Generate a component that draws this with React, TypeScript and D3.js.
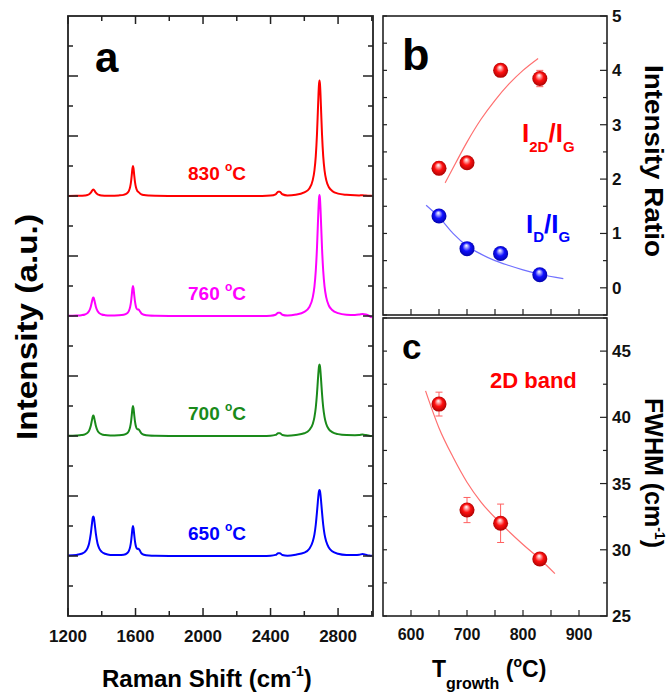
import React from 'react';
import * as d3 from 'd3';

// ---------- Panel a: Raman spectra ----------
const shifts = [1200,1250,1280,1300,1315,1325,1335,1342,1347,1350,
  1353,1358,1365,1375,1385,1400,1420,1450,1500,1530,
  1550,1560,1568,1574,1578,1582,1585,1588,1592,1597,
  1603,1610,1618,1625,1635,1650,1680,1720,1800,2000,
  2200,2350,2400,2430,2445,2455,2470,2500,2550,2600,
  2630,2650,2660,2668,2675,2680,2684,2687,2690,2693,
  2696,2700,2705,2712,2720,2730,2745,2765,2800,2850,
  2900,2925,2945,2965,2985,3000];

const spec650 = [0.017,0.037,0.074,0.137,0.252,0.417,0.742,1.081,1.28,1.32,
  1.28,1.081,0.742,0.417,0.252,0.137,0.074,0.037,0.033,0.045,
  0.095,0.162,0.295,0.5,0.71,0.93,1.0,0.93,0.727,0.481,
  0.311,0.237,0.244,0.19,0.092,0.043,0.017,0.008,0.003,0.0,
  0.0,0.002,0.008,0.036,0.09,0.09,0.036,0.012,0.045,0.11,
  0.24,0.48,0.72,1.05,1.46,1.79,2.04,2.16,2.2,2.16,
  2.04,1.79,1.46,1.05,0.72,0.48,0.28,0.16,0.077,0.037,
  0.034,0.04,0.07,0.04,0.015,0.005];

const spec700 = [0.007,0.015,0.03,0.056,0.105,0.18,0.34,0.53,0.653,0.68,
  0.653,0.53,0.34,0.18,0.105,0.056,0.03,0.015,0.023,0.04,
  0.09,0.162,0.295,0.5,0.71,0.93,1.0,0.93,0.725,0.478,
  0.305,0.227,0.225,0.174,0.086,0.041,0.016,0.008,0.003,0.0,
  0.0,0.002,0.008,0.036,0.09,0.09,0.036,0.012,0.035,0.09,
  0.2,0.4,0.63,0.95,1.4,1.82,2.14,2.32,2.38,2.32,
  2.14,1.82,1.4,0.95,0.63,0.4,0.23,0.13,0.062,0.03,
  0.025,0.03,0.05,0.03,0.01,0.0];

const spec760 = [0.006,0.014,0.027,0.051,0.096,0.164,0.31,0.484,0.595,0.62,
  0.595,0.484,0.31,0.164,0.096,0.051,0.027,0.014,0.022,0.04,
  0.09,0.162,0.295,0.5,0.71,0.93,1.0,0.93,0.724,0.476,
  0.303,0.222,0.215,0.166,0.083,0.04,0.016,0.008,0.003,0.0,
  0.0,0.003,0.01,0.043,0.108,0.108,0.043,0.015,0.05,0.14,
  0.3,0.62,0.98,1.51,2.26,2.99,3.58,3.91,4.03,3.91,
  3.58,2.99,2.26,1.51,0.98,0.62,0.35,0.2,0.094,0.045,
  0.036,0.05,0.07,0.05,0.0,-0.05];

const spec830 = [0.002,0.005,0.01,0.018,0.034,0.058,0.11,0.172,0.211,0.22,
  0.211,0.172,0.11,0.058,0.034,0.018,0.01,0.005,0.018,0.038,
  0.09,0.162,0.295,0.5,0.71,0.93,1.0,0.93,0.713,0.462,
  0.28,0.177,0.129,0.094,0.055,0.031,0.014,0.007,0.003,0.0,
  0.0,0.004,0.014,0.056,0.14,0.14,0.058,0.02,0.04,0.12,
  0.25,0.53,0.85,1.33,2.05,2.77,3.38,3.72,3.85,3.72,
  3.38,2.77,2.05,1.33,0.85,0.53,0.3,0.17,0.08,0.04,
  0.023,0.02,0.025,0.015,0.01,0.005];

const spectra = [spec650, spec700, spec760, spec830];
const offsets = [2, 6, 10, 14];
const specLabels = ['650', '700', '760', '830'];
const specColors = ['#0000ff', '#1a8a1a', '#ff00ff', '#ff0000'];
const ramanTicks = [1200, 1600, 2000, 2400, 2800];

// ---------- Panel b: intensity ratios ----------
const temps = [650, 700, 760, 830];
const ratio2DG = [2.2, 2.3, 4.0, 3.85];
const ratio2DGErr = [0.12, 0.06, 0.08, 0.15];
const ratioDG = [1.32, 0.72, 0.63, 0.24];
const fit2DGT = [661, 680, 700, 725, 750, 775, 800, 827];
const fit2DGV = [1.93, 2.3, 2.68, 3.1, 3.45, 3.75, 4.0, 4.22];
const fitDGT = [627, 650, 675, 700, 725, 750, 775, 800, 830, 872];
const fitDGV = [1.52, 1.3, 1.0, 0.77, 0.62, 0.5, 0.41, 0.33, 0.25, 0.17];
const ratioTicks = [0, 1, 2, 3, 4, 5];

// ---------- Panel c: FWHM of 2D band ----------
const fwhm2D = [41, 33, 32, 29.3];
const fwhm2DErr = [0.9, 0.95, 1.45, 0.2];
const fitFwhmT = [626, 650, 675, 700, 725, 760, 800, 830, 857];
const fitFwhmV = [42, 39.2, 37.0, 35.1, 33.6, 32.0, 30.4, 29.3, 28.2];
const fwhmTicks = [25, 30, 35, 40, 45];
const tempTicks = [600, 700, 800, 900];

const FONT = "'Liberation Sans', Arial, sans-serif";

export default function App() {
  const aL = 68, aR = 373, aT = 16, aB = 616;
  const bL = 383, bR = 607, bT = 16, bB = 315;
  const cT = 318, cB = 616;

  const xA = d3.scaleLinear().domain([1200, 3007]).range([aL, aR]);
  const yA = d3.scaleLinear().domain([0, 20]).range([aB, aT]);
  const xB = d3.scaleLinear().domain([550, 950]).range([bL, bR]);
  const yB = d3.scaleLinear().domain([-0.5, 5]).range([bB, bT]);
  const yC = d3.scaleLinear().domain([25, 47.5]).range([cB, cT]);

  const axisColor = '#222';

  const specPath = (vals: number[], off: number) =>
    d3.line<number>()
      .x((_, i) => xA(shifts[i]))
      .y((v) => yA(v + off))
      .curve(d3.curveMonotoneX)(vals) || '';

  const fitPath = (ts: number[], vs: number[], ys: d3.ScaleLinear<number, number>) =>
    d3.line<number>()
      .x((t) => xB(t))
      .y((_, i) => ys(vs[i]))
      .curve(d3.curveMonotoneX)(ts) || '';

  // ticks panel a
  const aTicks: JSX.Element[] = [];
  d3.range(1200, 3001, 200).forEach((v, i) => {
    const len = (v - 1200) % 400 === 0 ? 8 : 5;
    const x = xA(v);
    aTicks.push(<line key={'ab' + i} x1={x} x2={x} y1={aB} y2={aB - len} stroke={axisColor} strokeWidth={1.5} />);
    aTicks.push(<line key={'at' + i} x1={x} x2={x} y1={aT} y2={aT + len} stroke={axisColor} strokeWidth={1.5} />);
  });
  d3.range(1, 20).forEach((v, i) => {
    const len = v % 2 === 0 ? 10 : 5;
    const y = yA(v);
    aTicks.push(<line key={'al' + i} x1={aL} x2={aL + len} y1={y} y2={y} stroke={axisColor} strokeWidth={1.5} />);
    aTicks.push(<line key={'ar' + i} x1={aR} x2={aR - len} y1={y} y2={y} stroke={axisColor} strokeWidth={1.5} />);
  });

  // ticks panel b / c
  const bcTicks: JSX.Element[] = [];
  d3.range(-0.5, 5.01, 0.5).forEach((v, i) => {
    const major = Math.abs(v - Math.round(v)) < 1e-6;
    const y = yB(v);
    bcTicks.push(<line key={'bl' + i} x1={bL} x2={bL + 4} y1={y} y2={y} stroke={axisColor} strokeWidth={1.2} />);
    bcTicks.push(<line key={'br' + i} x1={bR} x2={bR - (major ? 7 : 4)} y1={y} y2={y} stroke={axisColor} strokeWidth={1.2} />);
  });
  d3.range(25, 47.6, 2.5).forEach((v, i) => {
    const major = v % 5 === 0;
    const y = yC(v);
    bcTicks.push(<line key={'cl' + i} x1={bL} x2={bL + 4} y1={y} y2={y} stroke={axisColor} strokeWidth={1.2} />);
    bcTicks.push(<line key={'cr' + i} x1={bR} x2={bR - (major ? 7 : 4)} y1={y} y2={y} stroke={axisColor} strokeWidth={1.2} />);
  });
  d3.range(600, 901, 50).forEach((v, i) => {
    const x = xB(v);
    bcTicks.push(<line key={'bb' + i} x1={x} x2={x} y1={bB} y2={bB - 6} stroke={axisColor} strokeWidth={1.2} />);
    bcTicks.push(<line key={'cb' + i} x1={x} x2={x} y1={cB} y2={cB - 6} stroke={axisColor} strokeWidth={1.2} />);
  });

  const sphere = (key: string, cx: number, cy: number, fill: string) => (
    <circle key={key} cx={cx} cy={cy} r={7.5} fill={fill} />
  );

  const errBar = (key: string, x: number, y1: number, y2: number, color: string) => (
    <g key={key} stroke={color} strokeWidth={1}>
      <line x1={x} x2={x} y1={y1} y2={y2} />
      <line x1={x - 3.5} x2={x + 3.5} y1={y1} y2={y1} />
      <line x1={x - 3.5} x2={x + 3.5} y1={y2} y2={y2} />
    </g>
  );

  return (
    <svg width={670} height={696} style={{ position: 'absolute', left: 0, top: 0, background: '#fff' }} fontFamily={FONT}>
      <defs>
        <radialGradient id="sphRed" cx="0.5" cy="0.5" r="0.55" fx="0.45" fy="0.28">
          <stop offset="0" stopColor="#ffffff" />
          <stop offset="0.18" stopColor="#ffb0b0" />
          <stop offset="0.5" stopColor="#ff1010" />
          <stop offset="1" stopColor="#a00000" />
        </radialGradient>
        <radialGradient id="sphBlue" cx="0.5" cy="0.5" r="0.55" fx="0.45" fy="0.28">
          <stop offset="0" stopColor="#ffffff" />
          <stop offset="0.18" stopColor="#b0b0ff" />
          <stop offset="0.5" stopColor="#1010ff" />
          <stop offset="1" stopColor="#0000a0" />
        </radialGradient>
      </defs>
      <rect x={0} y={0} width={670} height={696} fill="#fff" />

      {/* ---------- Panel a ---------- */}
      {spectra.map((s, k) => (
        <path key={'sp' + k} d={specPath(s, offsets[k])} fill="none" stroke={specColors[k]} strokeWidth={2} />
      ))}
      {spectra.map((_, k) => (
        <text key={'sl' + k} x={188} y={yA(offsets[k]) - 16} fill={specColors[k]} fontSize={19} fontWeight="bold">
          {specLabels[k] + ' '}
          <tspan fontSize={12} dy={-9}>o</tspan>
          <tspan fontSize={19} dy={9}>C</tspan>
        </text>
      ))}
      <rect x={aL} y={aT} width={aR - aL} height={aB - aT} fill="none" stroke={axisColor} strokeWidth={1.8} />
      {aTicks}
      {ramanTicks.map((v) => (
        <text key={'rt' + v} x={xA(v)} y={642} textAnchor="middle" fontSize={17} fontWeight="bold" fill="#111">{v}</text>
      ))}
      <text x={95} y={72} fontSize={42} fontWeight="bold" fill="#000">a</text>
      <text transform="translate(37,327) rotate(-90)" textAnchor="middle" fontSize={30} fontWeight="bold" fill="#000"
        textLength={226} lengthAdjust="spacingAndGlyphs">Intensity (a.u.)</text>
      <text x={102} y={687} fontSize={24} fontWeight="bold" fill="#000">
        Raman Shift (cm<tspan fontSize={14} dy={-11}>-1</tspan><tspan fontSize={24} dy={11}>)</tspan>
      </text>

      {/* ---------- Panel b ---------- */}
      <path d={fitPath(fit2DGT, fit2DGV, yB)} fill="none" stroke="#ff7070" strokeWidth={1.2} />
      <path d={fitPath(fitDGT, fitDGV, yB)} fill="none" stroke="#7070ff" strokeWidth={1.2} />
      {temps.map((t, i) => errBar('eb' + i, xB(t), yB(ratio2DG[i] + ratio2DGErr[i]), yB(ratio2DG[i] - ratio2DGErr[i]), '#ff6060'))}
      {temps.map((t, i) => sphere('r2' + i, xB(t), yB(ratio2DG[i]), 'url(#sphRed)'))}
      {temps.map((t, i) => sphere('rd' + i, xB(t), yB(ratioDG[i]), 'url(#sphBlue)'))}
      <rect x={bL} y={bT} width={bR - bL} height={bB - bT} fill="none" stroke={axisColor} strokeWidth={1.6} />
      {ratioTicks.map((v) => (
        <text key={'bt' + v} x={612} y={yB(v) + 6} fontSize={17} fontWeight="bold" fill="#111">{v}</text>
      ))}
      <text x={402} y={70} fontSize={45} fontWeight="bold" fill="#000">b</text>
      <text x={522} y={142} fontSize={26} fontWeight="bold" fill="#ff0000">
        I<tspan fontSize={15} dy={10}>2D</tspan><tspan fontSize={26} dy={-10}>/I</tspan><tspan fontSize={15} dy={10}>G</tspan>
      </text>
      <text x={526} y={233} fontSize={26} fontWeight="bold" fill="#0000ff">
        I<tspan fontSize={15} dy={9}>D</tspan><tspan fontSize={26} dy={-9}>/I</tspan><tspan fontSize={15} dy={9}>G</tspan>
      </text>
      <text transform="translate(645,161) rotate(90)" textAnchor="middle" fontSize={25} fontWeight="bold" fill="#000"
        textLength={192} lengthAdjust="spacingAndGlyphs">Intensity Ratio</text>

      {/* ---------- Panel c ---------- */}
      <path d={fitPath(fitFwhmT, fitFwhmV, yC)} fill="none" stroke="#ff7070" strokeWidth={1.2} />
      {temps.map((t, i) => errBar('ec' + i, xB(t), yC(fwhm2D[i] + fwhm2DErr[i]), yC(fwhm2D[i] - fwhm2DErr[i]), '#ff6060'))}
      {temps.map((t, i) => sphere('fw' + i, xB(t), yC(fwhm2D[i]), 'url(#sphRed)'))}
      <rect x={bL} y={cT} width={bR - bL} height={cB - cT} fill="none" stroke={axisColor} strokeWidth={1.6} />
      {bcTicks}
      {fwhmTicks.map((v) => (
        <text key={'ct' + v} x={612} y={yC(v) + 6} fontSize={17} fontWeight="bold" fill="#111">{v}</text>
      ))}
      {tempTicks.map((v) => (
        <text key={'tt' + v} x={xB(v)} y={640} textAnchor="middle" fontSize={16} fontWeight="bold" fill="#111">{v}</text>
      ))}
      <text x={402} y={359} fontSize={35} fontWeight="bold" fill="#000">c</text>
      <text x={490} y={388} fontSize={22} fontWeight="bold" fill="#ff0000">2D band</text>
      <text transform="translate(645,473) rotate(90)" textAnchor="middle" fontSize={25} fontWeight="bold" fill="#000">
        FWHM (cm<tspan fontSize={14} dy={-10}>-1</tspan><tspan fontSize={25} dy={10}>)</tspan>
      </text>
      <text x={432} y={677} fontSize={23} fontWeight="bold" fill="#000">
        T<tspan fontSize={16} dy={12}>growth</tspan><tspan fontSize={23} dy={-12}> (</tspan><tspan fontSize={14} dy={-10}>o</tspan><tspan fontSize={23} dy={10}>C)</tspan>
      </text>
    </svg>
  );
}
